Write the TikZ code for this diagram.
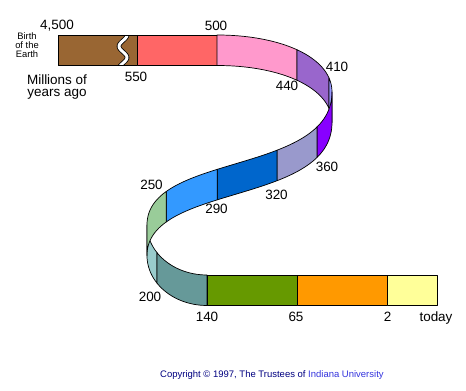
\documentclass[tikz,border=0pt]{standalone}
\usepackage{fontspec}
\setmainfont{Liberation Sans}
\usepackage{tikz}
\definecolor{cBrown}{RGB}{153,102,51}
\definecolor{cSalmon}{RGB}{255,102,102}
\definecolor{cPink}{RGB}{255,153,204}
\definecolor{cPurple}{RGB}{153,102,204}
\definecolor{cLilac}{RGB}{153,153,255}
\definecolor{cViolet}{RGB}{136,0,255}
\definecolor{cLavender}{RGB}{153,153,204}
\definecolor{cBlue}{RGB}{0,102,204}
\definecolor{cSky}{RGB}{51,153,255}
\definecolor{cGreen}{RGB}{153,204,153}
\definecolor{cCyan}{RGB}{153,204,204}
\definecolor{cTeal}{RGB}{102,153,153}
\definecolor{cOlive}{RGB}{102,153,0}
\definecolor{cOrange}{RGB}{255,153,0}
\definecolor{cYellow}{RGB}{255,255,153}
\definecolor{cNavy}{RGB}{0,0,128}
\definecolor{cIU}{RGB}{51,51,221}
\tikzset{
  declare function={
    bz(\t,\a,\b,\c,\d)=(1-\t)*(1-\t)*(1-\t)*\a+3*(1-\t)*(1-\t)*\t*\b+3*(1-\t)*\t*\t*\c+\t*\t*\t*\d;
    rtx(\t)=bz(\t,217,280.5,332,332); rty(\t)=bz(\t,35,35,57,92);
    snx(\t)=bz(\t,332,332,147,147); sny(\t)=bz(\t,92,175,153,225);
    ltx(\t)=bz(\t,147,147,173.9,207); lty(\t)=bz(\t,225,252.6,275,275);
  },
  band/.style={draw=black,line width=0.6pt,line join=round},
  lbl/.style={inner sep=0pt,font=\fontsize{11.5}{11.5}\selectfont},
}
% one coloured piece of the ribbon: colour, curve, from, to
\newcommand{\bandpart}[4]{%
  \filldraw[band,fill=#1] plot[domain=#3:#4,samples=30] ({#2x(\x)},{#2y(\x)}) -- ({#2x(#4)},{#2y(#4)})
    -- plot[domain=#4:#3,samples=30] ({#2x(\x)},{#2y(\x)+30.5}) -- ({#2x(#3)},{#2y(#3)+30.5}) -- cycle;}

\begin{document}
\begin{tikzpicture}[x=0.03cm,y=-0.03cm]
\useasboundingbox (0,0) rectangle (466,391);
\fill[cBrown] (58,35) rectangle (137,65.5);
\begin{scope}
\clip (58,35) rectangle (137,65.5);
\draw[line width=3.9pt] plot[domain=32:69,samples=40] ({123+4*cos(16*(\x-35))},\x);
\draw[white,line width=2.5pt] plot[domain=32:69,samples=40] ({123+4*cos(16*(\x-35))},\x);
\end{scope}
\draw[band] (58,35) rectangle (137,65.5);
\filldraw[band,fill=cSalmon] (137,35) rectangle (217,65.5);
\bandpart{cPink}{rt}{0}{0.49}
\bandpart{cPurple}{rt}{0.49}{0.86}
\bandpart{cLilac}{rt}{0.86}{1}
\bandpart{cCyan}{lt}{0}{0.37}
\bandpart{cTeal}{lt}{0.37}{1}
\filldraw[band,fill=cOlive] (207,275) rectangle (297,305.5);
\filldraw[band,fill=cOrange] (297,275) rectangle (387,305.5);
\filldraw[band,fill=cYellow] (387,275) rectangle (437,305.5);
\bandpart{cViolet}{sn}{0}{0.175}
\bandpart{cLavender}{sn}{0.175}{0.361}
\bandpart{cBlue}{sn}{0.361}{0.581}
\bandpart{cSky}{sn}{0.581}{0.8}
\bandpart{cGreen}{sn}{0.8}{1}

\node[lbl] (n4500) at (57,25.5) {4,500};
\node[lbl,align=center,font=\fontsize{8}{7.8}\selectfont] (birth) at (27,45) {Birth\\of the\\Earth};
\node[lbl,align=center,font=\fontsize{11.5}{10.8}\selectfont] (mya) at (57,87) {Millions of\\years ago};
\node[lbl] (n550) at (136,77) {550};
\node[lbl] (n500) at (216,25.5) {500};
\node[lbl] (n440) at (287,86) {440};
\node[lbl] (n410) at (337,66.5) {410};
\node[lbl] (n360) at (327,167) {360};
\node[lbl] (n320) at (276.5,195) {320};
\node[lbl] (n290) at (216.5,209) {290};
\node[lbl] (n250) at (151.5,185) {250};
\node[lbl] (n200) at (150,297) {200};
\node[lbl] (n140) at (207,317) {140};
\node[lbl] (n65) at (296,317) {65};
\node[lbl] (n2) at (387.5,317) {2};
\node[lbl,anchor=base] (today) at (436,321.5) {today};
\node[anchor=base west,inner sep=0pt,font=\fontsize{8.1}{9}\selectfont,text=cNavy] (copy) at (160,377)
  {Copyright © 1997, The Trustees of \textcolor{cIU}{Indiana University}};
\end{tikzpicture}
\end{document}
